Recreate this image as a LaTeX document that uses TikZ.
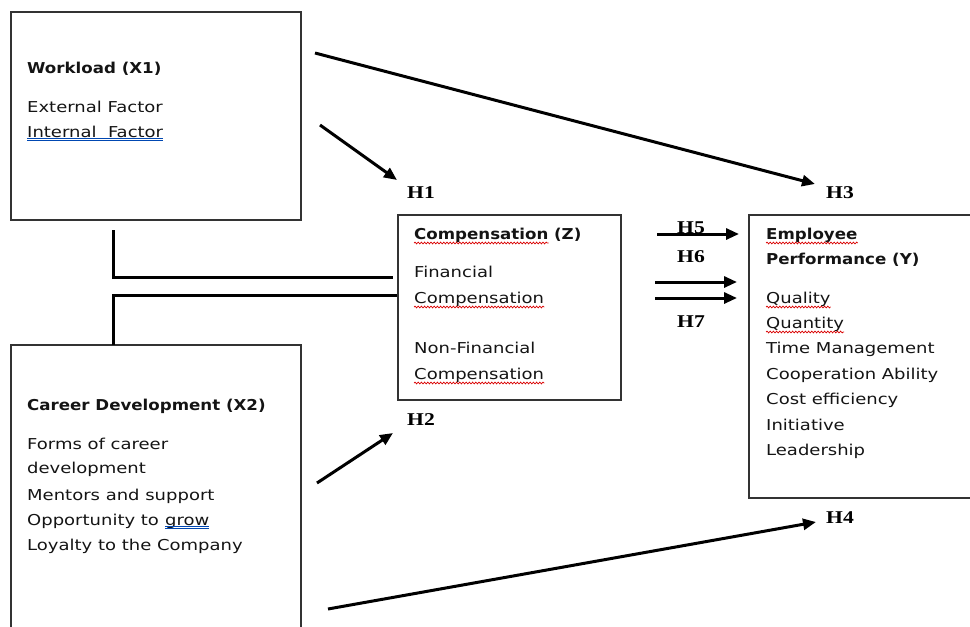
\documentclass[tikz,border=0pt]{standalone}
\usepackage{fontspec}
\usetikzlibrary{arrows.meta,decorations.pathmorphing}
\newfontfamily\boxfont{DejaVu Sans}[FakeStretch=1.2]
\newfontfamily\boxbold{DejaVu Sans Bold}[FakeStretch=1.11]
\newfontfamily\hypfont{Liberation Serif Bold}[FakeStretch=1.2]
\begin{document}
\begin{tikzpicture}[x=1pt,y=-1pt,
  box/.style={draw=black!80,line width=1.3pt},
  txt/.style={anchor=base west,inner sep=0pt,font=\boxfont\fontsize{15}{18}\selectfont,text=black!92},
  ttl/.style={txt,font=\boxbold\fontsize{15}{18}\selectfont},
  hyp/.style={anchor=center,inner sep=0pt,font=\hypfont\fontsize{18}{20}\selectfont,text=black},
  conn/.style={line width=3pt,black},
  arr/.style={conn,-{Triangle[length=13pt,width=11pt]}},
  spell/.style={red!85!black,line width=0.7pt,decorate,decoration={snake,amplitude=0.9pt,segment length=3.2pt}},
  gram/.style={blue!60!cyan!70!black,line width=0.7pt}
]
\useasboundingbox (0,0) rectangle (970,627);
% boxes
\draw[box] (11,12) rectangle (301,220);
\draw[box] (11,345) rectangle (301,640);
\draw[box] (398,215) rectangle (621,400);
\draw[box] (749,215) rectangle (985,498);
% Workload
\node[ttl] (w0) at (27,73) {Workload (X1)};
\node[txt] (w1) at (27,112) {External Factor};
\node[txt] (w2) at (27,137) {Internal\ \ Factor};
% Career
\node[ttl] (c0) at (27,410) {Career Development (X2)};
\node[txt] (c1) at (27,449) {Forms of career};
\node[txt] (c2) at (27,473) {development};
\node[txt] (c3) at (27,500) {Mentors and support};
\node[txt] (c4a) at (27,525) {Opportunity to};
\node[txt,xshift=5.7pt] (c4b) at (c4a.base east) {grow};
\node[txt] (c5) at (27,550) {Loyalty to the Company};
% Compensation
\node[ttl] (z0a) at (414,239) {Compensation};
\node[ttl,xshift=5.3pt] (z0b) at (z0a.base east) {(Z)};
\node[txt] (z1) at (414,277) {Financial};
\node[txt] (z2) at (414,303) {Compensation};
\node[txt] (z3) at (414,353) {Non-Financial};
\node[txt] (z4) at (414,379) {Compensation};
% Employee performance
\node[ttl] (y0) at (766,239) {Employee};
\node[ttl] (y1) at (766,264) {Performance (Y)};
\node[txt] (y2) at (766,303) {Quality};
\node[txt] (y3) at (766,328) {Quantity};
\node[txt] (y4) at (766,353) {Time Management};
\node[txt] (y5) at (766,379) {Cooperation Ability};
\node[txt] (y6) at (766,404) {Cost efficiency};
\node[txt] (y7) at (766,430) {Initiative};
\node[txt] (y8) at (766,455) {Leadership};
% spelling / grammar marks
\foreach \n in {z0a,z2,z4,y0,y2,y3}
  \draw[spell] ([yshift=-4pt]\n.base west) -- ([yshift=-4pt]\n.base east);
\foreach \n in {w2,c4b}{
  \draw[gram] ([yshift=-1.5pt]\n.base west) -- ([yshift=-1.5pt]\n.base east);
  \draw[gram] ([yshift=-3.5pt]\n.base west) -- ([yshift=-3.5pt]\n.base east);
}
% hypothesis labels
\node[hyp] (h1) at (421,193) {H1};
\node[hyp] (h2) at (421,420) {H2};
\node[hyp] (h3) at (840,193) {H3};
\node[hyp] (h4) at (840,518) {H4};
\node[hyp] (h5) at (691,228) {H5};
\node[hyp] (h6) at (691,257) {H6};
\node[hyp] (h7) at (691,322) {H7};
% connector coordinates
\coordinate (a3s) at (315,53);  \coordinate (a3e) at (815,184);
\coordinate (a1s) at (320,125); \coordinate (a1e) at (397,180);
\coordinate (a2s) at (317,483); \coordinate (a2e) at (393,433);
\coordinate (a4s) at (328,609); \coordinate (a4e) at (816,522);
\coordinate (a5s) at (657,234); \coordinate (a5e) at (739,234);
\coordinate (a6s) at (655,282); \coordinate (a6e) at (737,282);
\coordinate (a7s) at (655,298); \coordinate (a7e) at (737,298);
\coordinate (b1s) at (113,230); \coordinate (b1e) at (393,277);
\coordinate (b2s) at (397,295); \coordinate (b2e) at (113,345);
% connectors
\draw[arr] (a3s) -- (a3e);
\draw[arr] (a1s) -- (a1e);
\draw[arr] (a2s) -- (a2e);
\draw[arr] (a4s) -- (a4e);
\draw[arr] (a5s) -- (a5e);
\draw[arr] (a6s) -- (a6e);
\draw[arr] (a7s) -- (a7e);
\draw[conn] (b1s) |- (b1e);
\draw[conn] (b2s) -| (b2e);
\end{tikzpicture}
\end{document}
